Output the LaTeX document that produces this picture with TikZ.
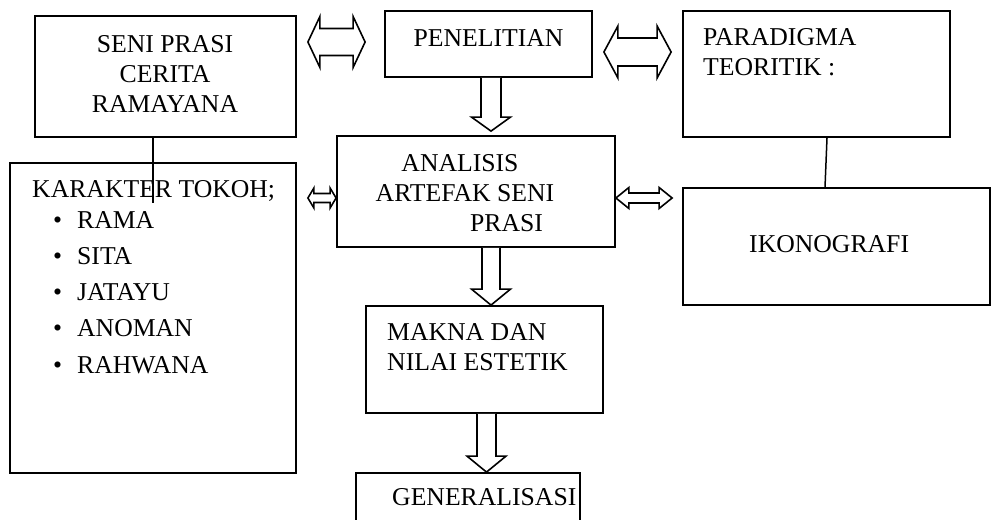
\documentclass[tikz,border=0pt]{standalone}
\usepackage{fontspec}
\setmainfont{Liberation Serif}
\usetikzlibrary{calc}
\tikzset{
  box/.style={draw, line width=1.8pt, inner sep=0pt},
  txt/.style={inner sep=0pt, font=\fontsize{25.7}{30}\selectfont},
  blk/.style={draw, line width=1.6pt, fill=white, line join=miter},
  link/.style={draw, line width=1.5pt},
}
\newcommand{\vblk}[5]{%
  \draw[blk] let \p1=#1, \p2=#2 in
    (\x1-#3,\y1) -- (\x1-#3,\y2+#5) -- (\x1-#4,\y2+#5) -- (\x1,\y2)
    -- (\x1+#4,\y2+#5) -- (\x1+#3,\y2+#5) -- (\x1+#3,\y1);}
\newcommand{\hblk}[5]{%
  \draw[blk] let \p1=#1, \p2=#2 in
    (\x1,\y1) -- (\x1+#5,\y1+#4) -- (\x1+#5,\y1+#3) -- (\x2-#5,\y1+#3)
    -- (\x2-#5,\y1+#4) -- (\x2,\y1) -- (\x2-#5,\y1-#4) -- (\x2-#5,\y1-#3)
    -- (\x1+#5,\y1-#3) -- (\x1+#5,\y1-#4) -- cycle;}
\begin{document}
\begin{tikzpicture}[x=1pt,y=-1pt]
\useasboundingbox (0,0) rectangle (992,519);
\clip (0,0) rectangle (992,519);
% boxes
\node[box, minimum width=261pt, minimum height=121pt] (seni) at (165.5,76.5) {};
\node[box, minimum width=207pt, minimum height=66pt] (pen) at (488.5,44) {};
\node[box, minimum width=267pt, minimum height=126pt] (para) at (816.5,74) {};
\node[box, minimum width=286pt, minimum height=310pt] (kar) at (153,318) {};
\node[box, minimum width=278pt, minimum height=111pt] (ana) at (476,191.5) {};
\node[box, minimum width=307pt, minimum height=117pt] (iko) at (836.5,246.5) {};
\node[box, minimum width=237pt, minimum height=107pt] (mak) at (484.5,359.5) {};
\node[box, minimum width=224pt, minimum height=67pt] (gen) at (468,506.5) {};
% texts (base anchor of a multi-line node = last line's baseline)
\node[txt, anchor=base, align=center] (seniT) at (165,112) {SENI PRASI\\CERITA\\RAMAYANA};
\node[txt, anchor=base] (penT) at (488.5,47) {PENELITIAN};
\node[txt, anchor=base west, align=left] (paraT) at (703,75) {PARADIGMA\\TEORITIK :};
\node[txt, anchor=base west] (ikoT) at (749,252) {IKONOGRAFI};
\node[txt, anchor=base west] (karT) at (32,197) {KARAKTER TOKOH;};
\node[txt, anchor=base west] (b1) at (53,228) {\makebox[24pt][l]{\textbullet}RAMA};
\node[txt, anchor=base west] (b2) at (53,264.25) {\makebox[24pt][l]{\textbullet}SITA};
\node[txt, anchor=base west] (b3) at (53,300.5) {\makebox[24pt][l]{\textbullet}JATAYU};
\node[txt, anchor=base west] (b4) at (53,336.75) {\makebox[24pt][l]{\textbullet}ANOMAN};
\node[txt, anchor=base west] (b5) at (53,373) {\makebox[24pt][l]{\textbullet}RAHWANA};
\node[txt, anchor=base] (anaT1) at (460,171) {ANALISIS};
\node[txt, anchor=base] (anaT2) at (465,201) {ARTEFAK SENI};
\node[txt, anchor=base west] (anaT3) at (470,231) {PRASI};
\node[txt, anchor=base west, align=left] (makT) at (387,370) {MAKNA DAN\\NILAI ESTETIK};
\node[txt, anchor=base west] (genT) at (392,505) {GENERALISASI};
% plain connectors
\coordinate (sk) at (153,203);
\draw[link] (seni.south -| sk) -- (sk);
\draw[link] (para.south -| 827,0) -- (iko.north -| 825,0);
% block arrows
\hblk{($(seni.east |- 0,42)+(11,0)$)}{($(pen.west |- 0,42)+(-19,0)$)}{13.5pt}{25.5pt}{12pt}
\hblk{($(pen.east |- 0,52)+(11,0)$)}{($(para.west |- 0,52)+(-11,0)$)}{14pt}{26pt}{14pt}
\hblk{($(kar.east |- 0,198)+(11,0)$)}{(ana.west |- 0,198)}{4.5pt}{10pt}{6pt}
\hblk{(ana.east |- 0,198)}{($(iko.west |- 0,198)+(-10,0)$)}{5pt}{10.5pt}{13pt}
\vblk{(pen.south -| 491,0)}{($(ana.north -| 491,0)+(0,-4)$)}{10pt}{19.5pt}{14pt}
\vblk{(ana.south -| 491,0)}{(mak.north -| 491,0)}{9pt}{19.5pt}{16pt}
\vblk{(mak.south -| 486.5,0)}{(gen.north -| 486.5,0)}{9.5pt}{19.5pt}{16pt}
\end{tikzpicture}
\end{document}
